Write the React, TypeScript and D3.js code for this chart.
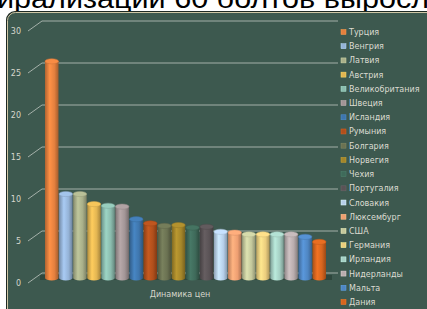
import * as d3 from 'd3';
import * as React from 'react';

const width = 427;
const height = 309;

const countries = [
  'Турция', 'Венгрия', 'Латвия', 'Австрия', 'Великобритания', 'Швеция',
  'Исландия', 'Румыния', 'Болгария', 'Норвегия', 'Чехия', 'Португалия',
  'Словакия', 'Люксембург', 'США', 'Германия', 'Ирландия', 'Нидерланды',
  'Мальта', 'Дания',
];
const values = [
  25.8, 10.0, 10.0, 8.8, 8.6, 8.5, 7.0, 6.5, 6.2, 6.3, 6.0, 6.1,
  5.5, 5.4, 5.2, 5.2, 5.2, 5.2, 4.9, 4.3,
];
const colors = [
  '#e4803e', '#95b3d7', '#a9b08a', '#e2b552', '#8bbcae', '#a29596',
  '#3f76ad', '#b04f1c', '#6b7252', '#a4862a', '#3f6a5a', '#5a5356',
  '#b6cfe9', '#ee9f72', '#c4c89c', '#ebcd7e', '#a5cfc3', '#b8acad',
  '#4f86c2', '#d6651f',
];
const yTicks = [0, 5, 10, 15, 20, 25, 30];
const categoryLabel = 'Динамика цен';
const title = 'ирализации 60 болтов выросл';

const depthX = 14;
const depthY = 10;

export default function App() {
  const x = d3.scaleBand<string>().domain(countries).range([45, 326]).paddingInner(0.04);
  const yFront = d3.scaleLinear().domain([0, 30]).range([283, 31]);
  const yMid = (v: number) => yFront(v) - depthY / 2;
  const legendY = d3.scalePoint<string>().domain(countries).range([32, 302]);

  const bw = x.bandwidth();
  const ry = 2.6;

  return (
    <svg
      width={width}
      height={height}
      style={{ position: 'absolute', left: 0, top: 0, background: '#fff' }}
      fontFamily="'DejaVu Sans', sans-serif"
    >
      <defs>
        {colors.map((c, i) => {
          const col = d3.color(c)!;
          return (
            <linearGradient key={i} id={`cyl${i}`} x1="0" x2="1" y1="0" y2="0">
              <stop offset="0%" stopColor={col.darker(0.7).formatHex()} />
              <stop offset="35%" stopColor={col.brighter(0.35).formatHex()} />
              <stop offset="70%" stopColor={c} />
              <stop offset="100%" stopColor={col.darker(0.9).formatHex()} />
            </linearGradient>
          );
        })}
      </defs>

      <text
        x={-3}
        y={8}
        fontSize={28}
        fontFamily="'Liberation Sans', Arial, sans-serif"
        textLength={432}
        lengthAdjust="spacingAndGlyphs"
        fill="#000"
      >
        {title}
      </text>

      {/* panel */}
      <rect x={6} y={11} width={440} height={320} rx={9} fill="#1e2a24" />
      <rect x={7.5} y={12.5} width={440} height={320} rx={8} fill="#3d594f" stroke="#cfc7a6" strokeWidth={1} />

      {/* gridlines with 3D side segment */}
      <g stroke="#a4b0a9" strokeWidth={1} fill="none">
        {yTicks.map(t => {
          const yf = yFront(t);
          return (
            <path
              key={t}
              d={`M28,${yf} L${28 + depthX},${yf - depthY} L338,${yf - depthY}`}
            />
          );
        })}
      </g>

      <g fontSize={8} fill="#d6d6cc" textAnchor="end">
        {yTicks.map(t => (
          <text key={t} x={21} y={yFront(t) + 3}>{t}</text>
        ))}
      </g>

      {/* floor shadow */}
      <rect x={40} y={yMid(0) - 3} width={292} height={5} fill="#2b4238" opacity={0.8} />

      {/* cylinders */}
      {countries.map((name, i) => {
        const x0 = x(name)!;
        const top = yMid(values[i]);
        const bot = yMid(0);
        const cx = x0 + bw / 2;
        const col = d3.color(colors[i])!;
        return (
          <g key={name}>
            <path
              d={`M${x0},${top} L${x0},${bot} A${bw / 2},${ry} 0 0 0 ${x0 + bw},${bot} L${x0 + bw},${top} Z`}
              fill={`url(#cyl${i})`}
            />
            <ellipse cx={cx} cy={top} rx={bw / 2} ry={ry} fill={col.brighter(0.25).formatHex()} stroke={col.darker(0.3).formatHex()} strokeWidth={0.5} />
          </g>
        );
      })}

      <text x={180} y={297} fontSize={8} fill="#d6d6cc" textAnchor="middle">{categoryLabel}</text>

      {/* legend */}
      <g fontSize={8} fill="#dcdcd2">
        {countries.map((name, i) => {
          const ly = legendY(name)!;
          return (
            <g key={name}>
              <rect x={341} y={ly - 2.5} width={5} height={5} fill={colors[i]} stroke={d3.color(colors[i])!.brighter(0.6).formatHex()} strokeWidth={0.5} />
              <text x={349} y={ly + 3}>{name}</text>
            </g>
          );
        })}
      </g>
    </svg>
  );
}
